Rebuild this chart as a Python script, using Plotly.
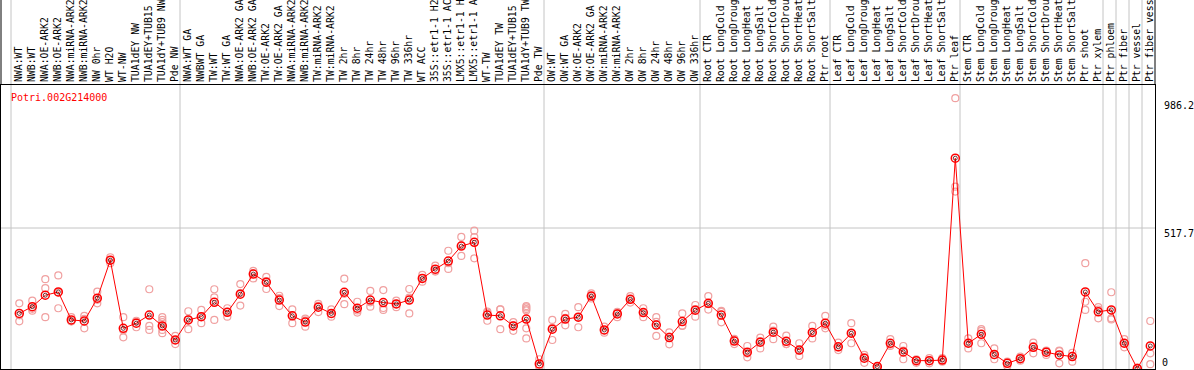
import plotly.graph_objects as go

gene = "Potri.002G214000"

labels = [
    "NWA:WT", "NWB:WT", "NWA:OE-ARK2", "NWB:OE-ARK2", "NWA:miRNA-ARK2", "NWB:miRNA-ARK2",
    "NW 0hr", "WT H2O", "WT-NW", "TUA1dEY NW", "TUA1dEY+TUB15", "TUA1dY+TUB9 NW", "Pde NW",
    "NWA:WT GA", "NWBWT GA", "TW:WT", "TW:WT GA", "NWA:OE-ARK2 GA", "NWB:OE-ARK2 GA",
    "TW:OE-ARK2", "TW:OE-ARK2 GA", "NWA:miRNA-ARK2", "NWB:miRNA-ARK2", "TW:miRNA-ARK2",
    "TW:miRNA-ARK2", "TW 2hr", "TW 8hr", "TW 24hr", "TW 48hr", "TW 96hr", "TW 336hr",
    "WT ACC", "35S::etr1-1 H2", "35S::etr1-1 AC", "LMX5::etr1-1 H", "LMX5::etr1-1 A",
    "WT-TW", "TUA1dEY TW", "TUA1dEY+TUB15", "TUA1dY+TUB9 TW", "Pde TW",
    "OW:WT", "OW:WT GA", "OW:OE-ARK2", "OW:OE-ARK2 GA", "OW:miRNA-ARK2", "OW:miRNA-ARK2",
    "OW 2hr", "OW 8hr", "OW 24hr", "OW 48hr", "OW 96hr", "OW 336hr",
    "Root CTR", "Root LongCold", "Root LongDroug", "Root LongHeat", "Root LongSalt",
    "Root ShortCold", "Root ShortDrou", "Root ShortHeat", "Root ShortSalt", "Ptr root",
    "Leaf CTR", "Leaf LongCold", "Leaf LongDroug", "Leaf LongHeat", "Leaf LongSalt",
    "Leaf ShortCold", "Leaf ShortDrou", "Leaf ShortHeat", "Leaf ShortSalt", "Ptr leaf",
    "Stem CTR", "Stem LongCold", "Stem LongDroug", "Stem LongHeat", "Stem LongSalt",
    "Stem ShortCold", "Stem ShortDrou", "Stem ShortHeat", "Stem ShortSalt", "Ptr shoot",
    "Ptr xylem", "Ptr phloem", "Ptr fiber", "Ptr vessel", "Ptr fiber vess",
]

means = [
    203, 228, 270, 282, 179, 175, 259, 399, 148, 167, 197, 157, 105,
    179, 191, 244, 207, 274, 348, 318, 252, 194, 171, 226, 203, 281, 222, 252,
    243, 238, 252, 332, 366, 396, 451, 465, 197, 194, 157, 182, 17,
    145, 182, 189, 267, 142, 201, 255, 206, 160, 114, 173,
    215, 240, 197, 101, 60, 97, 134, 100, 68, 133,
    167, 80, 130, 38, 7, 93, 61, 29, 29, 31,
    775, 93, 126, 52, 19, 36, 78, 60, 50, 44, 282,
    209, 216, 93, 0, 83,
]

replicates = [
    [240, 174, 196], [250, 213, 220], [329, 296, 189], [343, 222, 280],
    [189, 174, 174], [194, 148, 183], [283, 240, 253], [410, 388, 399],
    [189, 115, 141], [173, 152, 176], [292, 157, 142], [189, 179, 142, 130, 171, 157],
    [120, 90, 105],
    [211, 145, 181], [216, 167, 191], [292, 262, 179], [222, 191, 209],
    [311, 232, 278], [360, 332, 352], [338, 293, 322], [268, 230, 259],
    [218, 167, 196], [184, 154, 177], [238, 208, 231], [218, 191, 201],
    [331, 237, 275], [246, 206, 214], [286, 228, 244], [289, 216, 223],
    [250, 226, 238], [293, 203, 261], [345, 320, 333], [379, 357, 361],
    [434, 367, 388], [485, 415, 454], [508, 484, 406], [206, 176, 210],
    [218, 145, 218], [171, 139, 159], [230, 225, 219, 214, 148, 111], [34, 9, 7],
    [179, 105, 150], [201, 159, 187], [226, 152, 189], [277, 258, 267],
    [154, 132, 140], [209, 189, 204], [267, 243, 255], [222, 189, 206],
    [189, 120, 172], [133, 89, 118], [203, 157, 158],
    [234, 191, 219], [267, 217, 237], [212, 170, 209], [109, 90, 105],
    [83, 41, 55], [114, 74, 101], [154, 108, 140], [121, 90, 90],
    [93, 46, 66], [157, 111, 132],
    [194, 148, 158], [95, 68, 78], [167, 93, 130], [50, 21, 42], [9, 4, 6],
    [108, 83, 88], [83, 34, 66], [34, 21, 31], [38, 19, 29], [38, 25, 31],
    [996, 670, 652],
    [111, 74, 93], [145, 93, 139], [74, 34, 49], [25, 9, 23], [44, 29, 36],
    [95, 56, 83], [66, 50, 64], [66, 19, 64], [58, 25, 47], [388, 246, 216],
    [226, 185, 217], [281, 185, 181], [108, 78, 93], [0, 3, 0], [175, 56, 16],
]

y_tick_vals = [0, 517.7, 986.2]
y_tick_text = ["0", "517.7", "986.2"]

idx = list(range(len(labels)))

# group boundaries (first index of each block)
group_starts = [0, 13, 41, 53, 63, 73, 84, 85, 86, 87]

rx, ry = [], []
for i, reps in enumerate(replicates):
    for v in reps:
        rx.append(i)
        ry.append(v)

FONT = "DejaVu Sans Mono"
GRID = "#c4c4c4"
x_off = 0.638  # boundary offset to the left of each point column
x_range = [-1.408, 87.362]
y_range = [-1.84, 1044.7]

fig = go.Figure()
fig.add_trace(go.Scatter(
    x=rx, y=ry, mode="markers", yaxis="y",
    marker=dict(symbol="circle-open", size=7, color="#f0a0a0", line=dict(width=1.2)),
    hoverinfo="skip",
))
fig.add_trace(go.Scatter(
    x=idx, y=means, mode="lines+markers", yaxis="y2",
    line=dict(color="#ff0000", width=1),
    marker=dict(symbol="circle-open", size=8, color="#ff0000", line=dict(width=1.5)),
))
fig.add_trace(go.Scatter(
    x=idx, y=means, mode="markers", yaxis="y2",
    marker=dict(symbol="circle-open", size=4, color="rgba(60,0,0,0.75)", line=dict(width=1)),
    hoverinfo="skip",
))

shapes = []
for s in group_starts:
    shapes.append(dict(type="line", xref="x", yref="paper", x0=s - x_off, x1=s - x_off,
                       y0=0, y1=1.31, line=dict(color=GRID, width=1), layer="below"))
shapes.append(dict(type="line", xref="paper", yref="y", x0=0, x1=1, y0=517.7, y1=517.7,
                   line=dict(color=GRID, width=1), layer="below"))
for px in (0, 1):
    shapes.append(dict(type="line", xref="paper", yref="paper", x0=px, x1=px, y0=1, y1=1.31,
                       line=dict(color="black", width=1)))

fig.update_layout(
    width=1194, height=370,
    margin=dict(l=1, r=39, t=85, b=1, pad=0),
    paper_bgcolor="white", plot_bgcolor="white",
    showlegend=False,
    shapes=shapes,
    xaxis=dict(
        range=x_range, tickmode="array", tickvals=idx, ticktext=labels,
        side="top", tickangle=-90, ticks="",
        tickfont=dict(family=FONT, size=9.8, color="black"),
        showline=True, linecolor="black", linewidth=1, mirror=True,
        showgrid=False, zeroline=False, automargin=False,
    ),
    yaxis=dict(
        range=y_range, side="right", tickmode="array",
        tickvals=y_tick_vals[1:], ticktext=y_tick_text[1:],
        ticks="", ticklabelshift=5, ticklabelstandoff=6,
        tickfont=dict(family=FONT, size=10, color="black"),
        showline=True, linecolor="black", linewidth=1, mirror=True,
        showgrid=False, zeroline=False, automargin=False,
    ),
    yaxis2=dict(
        range=y_range, overlaying="y", side="right", tickmode="array",
        tickvals=y_tick_vals[:1], ticktext=y_tick_text[:1],
        ticks="", ticklabelshift=-6, ticklabelstandoff=6,
        tickfont=dict(family=FONT, size=10, color="black"),
        showline=False, showgrid=False, zeroline=False, automargin=False,
    ),
    annotations=[dict(
        text=gene, xref="paper", yref="paper", x=8 / 1154, y=(369 - 97) / 284,
        xanchor="left", yanchor="middle", showarrow=False,
        font=dict(family=FONT, size=10, color="#ff0000"),
    )],
)

fig.write_html(
    "out.html",
    config={"displayModeBar": False},
    post_script="document.body.style.margin='0';document.body.style.padding='0';",
)
